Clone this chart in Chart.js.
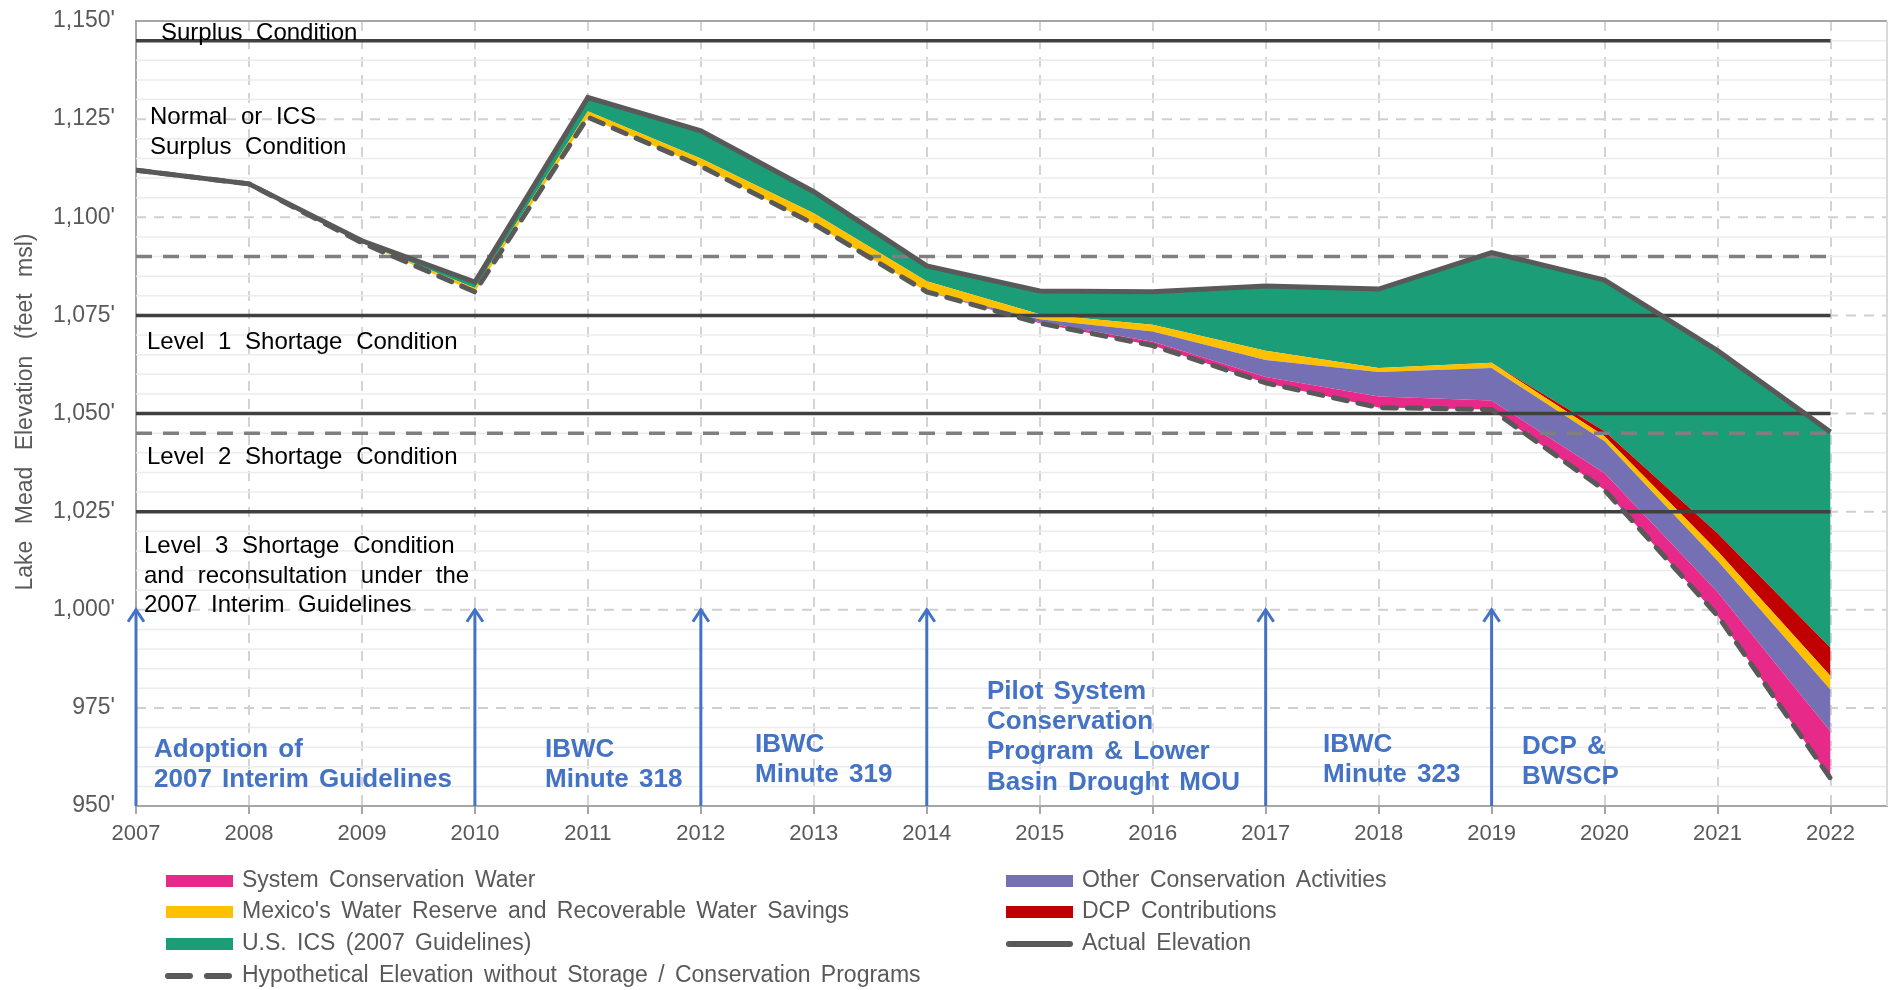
<!DOCTYPE html>
<html>
<head>
<meta charset="utf-8">
<title>Lake Mead Elevation</title>
<script src="https://cdn.jsdelivr.net/npm/chart.js@4.4.1/dist/chart.umd.min.js"></script>
<style>
  html, body { margin: 0; padding: 0; background: #fff; }
  #wrap { width: 1888px; height: 990px; }
</style>
</head>
<body>
<div id="wrap"><canvas id="chart" width="1888" height="990"></canvas></div>
<script>
// years on the x axis
const years = [2007, 2008, 2009, 2010, 2011, 2012, 2013, 2014, 2015, 2016, 2017, 2018, 2019, 2020, 2021, 2022]

// elevations (feet msl)
const actualElevation = [1112, 1108.5, 1094, 1083.5, 1130.5, 1122, 1106.5, 1087.6, 1081.2, 1081, 1082.5, 1081.7, 1091, 1084, 1066, 1045.3]
const hypotheticalElevation = [1112, 1108.5, 1093.5, 1081, 1125.5, 1113, 1098.3, 1081, 1073, 1067.3, 1057.8, 1051.5, 1051, 1030.5, 998.5, 957]

// feet of elevation added by each program (stacked from the hypothetical line up)
const systemConservation = [0, 0, 0, 0, 0, 0, 0, 0, 0.3, 1.0, 1.5, 2.8, 2.3, 4.3, 6, 12]
const otherConservation = [0, 0, 0, 0, 0, 0, 0, 0, 0.7, 2.6, 4.3, 6.3, 8.3, 8.1, 8, 10.6]
const mexicoReserve = [0, 0, 0, 1, 1.5, 2, 2.7, 2.7, 1.3, 1.7, 2.4, 1, 1.3, 1.3, 2.5, 3.5]
const dcpContributions = [0, 0, 0, 0, 0, 0, 0, 0, 0, 0, 0, 0, 0, 1.3, 4.5, 7.2]
// U.S. ICS fills what is left up to the actual elevation

// condition thresholds
const solidLevels = [1145, 1075, 1050, 1025]
const dashedLevels = [1090, 1045]

// policy milestones (arrows)
const milestoneYears = [2007, 2010, 2012, 2014, 2017, 2019]

const yTicks = [950, 975, 1000, 1025, 1050, 1075, 1100, 1125, 1150]

const FONT = '"Liberation Sans", Arial, sans-serif'
const GRAY = '#595959'
const BLUE = '#4472C4'

const colors = {
    pink: '#E7298A',
    purple: '#7570B3',
    yellow: '#FFC000',
    red: '#C00000',
    green: '#1B9E77',
    line: '#595959',
}

// text placed on the chart (left x, middle y in px)
const conditionLabels = [
    ['Surplus Condition', 161, 33],
    ['Normal or ICS', 150, 117],
    ['Surplus Condition', 150, 147],
    ['Level 1 Shortage Condition', 147, 342],
    ['Level 2 Shortage Condition', 147, 457],
    ['Level 3 Shortage Condition', 144, 546],
    ['and reconsultation under the', 144, 576],
    ['2007 Interim Guidelines', 144, 605],
]

const milestoneLabels = [
    ['Adoption of', 154, 750],
    ['2007 Interim Guidelines', 154, 780],
    ['IBWC', 545, 750],
    ['Minute 318', 545, 780],
    ['IBWC', 755, 745],
    ['Minute 319', 755, 775],
    ['Pilot System', 987, 692],
    ['Conservation', 987, 722],
    ['Program & Lower', 987, 752],
    ['Basin Drought MOU', 987, 783],
    ['IBWC', 1323, 745],
    ['Minute 323', 1323, 775],
    ['DCP &', 1522, 747],
    ['BWSCP', 1522, 777],
]

const legendItems = [
    {text: 'System Conservation Water', type: 'box', color: colors.pink, x: 166, y: 881},
    {text: "Mexico's Water Reserve and Recoverable Water Savings", type: 'box', color: colors.yellow, x: 166, y: 912},
    {text: 'U.S. ICS (2007 Guidelines)', type: 'box', color: colors.green, x: 166, y: 944},
    {text: 'Hypothetical Elevation without Storage / Conservation Programs', type: 'dash', color: colors.line, x: 166, y: 976},
    {text: 'Other Conservation Activities', type: 'box', color: colors.purple, x: 1006, y: 881},
    {text: 'DCP Contributions', type: 'box', color: colors.red, x: 1006, y: 912},
    {text: 'Actual Elevation', type: 'line', color: colors.line, x: 1006, y: 944},
]

// build the stacked boundaries
function points(values) {
    return years.map((yr, i) => ({x: yr, y: values[i]}))
}

let pinkTop = hypotheticalElevation.map((v, i) => v + systemConservation[i])
let purpleTop = pinkTop.map((v, i) => v + otherConservation[i])
let yellowTop = purpleTop.map((v, i) => v + mexicoReserve[i])
let redTop = yellowTop.map((v, i) => v + dcpContributions[i])

function areaSet(label, values, color) {
    return {
        label,
        data: points(values),
        fill: '-1',
        backgroundColor: color,
        borderWidth: 0,
        pointRadius: 0,
        order: 6,
    }
}

let datasets = [
    {
        label: 'Hypothetical Elevation without Storage / Conservation Programs',
        data: points(hypotheticalElevation),
        borderColor: colors.line,
        borderWidth: 5,
        borderDash: [14, 11],
        borderCapStyle: 'round',
        fill: false,
        pointRadius: 0,
        order: 2,
    },
    areaSet('System Conservation Water', pinkTop, colors.pink),
    areaSet('Other Conservation Activities', purpleTop, colors.purple),
    areaSet("Mexico's Water Reserve and Recoverable Water Savings", yellowTop, colors.yellow),
    areaSet('DCP Contributions', redTop, colors.red),
    areaSet('U.S. ICS (2007 Guidelines)', actualElevation, colors.green),
    {
        label: 'Actual Elevation',
        data: points(actualElevation),
        borderColor: colors.line,
        borderWidth: 5,
        fill: false,
        pointRadius: 0,
        order: 1,
    },
]

solidLevels.forEach((lvl) => {
    datasets.push({
        label: 'level ' + lvl,
        data: [{x: years[0], y: lvl}, {x: years[years.length - 1], y: lvl}],
        borderColor: '#404040',
        borderWidth: 3.5,
        fill: false,
        pointRadius: 0,
        order: 3,
    })
})
dashedLevels.forEach((lvl) => {
    datasets.push({
        label: 'level ' + lvl,
        data: [{x: years[0], y: lvl}, {x: years[years.length - 1], y: lvl}],
        borderColor: '#7f7f7f',
        borderWidth: 3.5,
        borderDash: [16, 11],
        fill: false,
        pointRadius: 0,
        order: 3,
    })
})

const gridPlugin = {
    id: 'gridPlugin',
    beforeDatasetsDraw(chart) {
        let {ctx, chartArea: a, scales: {y}} = chart
        ctx.save()
        for (let v = 955; v < 1150; v += 5) {
            let py = y.getPixelForValue(v)
            ctx.beginPath()
            if (v % 25 === 0) {
                ctx.strokeStyle = '#d0d0d0'
                ctx.lineWidth = 2
                ctx.setLineDash([10, 8])
            } else {
                ctx.strokeStyle = '#ececec'
                ctx.lineWidth = 1.5
                ctx.setLineDash([])
            }
            ctx.moveTo(a.left, py)
            ctx.lineTo(a.right, py)
            ctx.stroke()
        }
        ctx.setLineDash([])
        ctx.strokeStyle = '#a6a6a6'
        ctx.lineWidth = 2
        ctx.beginPath()
        ctx.moveTo(a.left, a.top)
        ctx.lineTo(a.right, a.top)
        ctx.stroke()
        ctx.strokeStyle = '#d9d9d9'
        ctx.beginPath()
        ctx.moveTo(a.right, a.top)
        ctx.lineTo(a.right, a.bottom)
        ctx.stroke()
        ctx.restore()
    },
}

const overlayPlugin = {
    id: 'overlayPlugin',
    afterDraw(chart) {
        let {ctx, scales: {x, y}} = chart
        ctx.save()

        // milestone arrows
        ctx.strokeStyle = BLUE
        ctx.lineWidth = 3
        milestoneYears.forEach((yr) => {
            let px = x.getPixelForValue(yr)
            let top = y.getPixelForValue(1000)
            let bottom = y.getPixelForValue(950)
            ctx.beginPath()
            ctx.moveTo(px, bottom)
            ctx.lineTo(px, top)
            ctx.stroke()
            ctx.beginPath()
            ctx.moveTo(px - 8, top + 12)
            ctx.lineTo(px, top)
            ctx.lineTo(px + 8, top + 12)
            ctx.stroke()
        })

        ctx.textBaseline = 'middle'
        ctx.textAlign = 'left'

        // condition labels
        ctx.fillStyle = '#000'
        ctx.font = '24px ' + FONT
        ctx.wordSpacing = '7px'
        conditionLabels.forEach(([t, lx, ly]) => ctx.fillText(t, lx, ly))

        // milestone labels
        ctx.fillStyle = BLUE
        ctx.font = 'bold 26px ' + FONT
        ctx.wordSpacing = '3px'
        milestoneLabels.forEach(([t, lx, ly]) => ctx.fillText(t, lx, ly))

        // y axis title
        ctx.save()
        ctx.translate(26, 412)
        ctx.rotate(-Math.PI / 2)
        ctx.textAlign = 'center'
        ctx.fillStyle = GRAY
        ctx.font = '23px ' + FONT
        ctx.wordSpacing = '10px'
        ctx.fillText('Lake Mead Elevation (feet msl)', 0, 0)
        ctx.restore()

        // legend
        ctx.font = '23px ' + FONT
        ctx.wordSpacing = '4px'
        legendItems.forEach((item) => {
            if (item.type === 'box') {
                ctx.fillStyle = item.color
                ctx.fillRect(item.x, item.y - 6, 67, 12)
            } else if (item.type === 'line') {
                ctx.strokeStyle = item.color
                ctx.lineWidth = 6
                ctx.lineCap = 'round'
                ctx.beginPath()
                ctx.moveTo(item.x + 3, item.y)
                ctx.lineTo(item.x + 64, item.y)
                ctx.stroke()
            } else {
                ctx.strokeStyle = item.color
                ctx.lineWidth = 6
                ctx.lineCap = 'round'
                ctx.beginPath()
                ctx.moveTo(item.x + 2, item.y)
                ctx.lineTo(item.x + 24, item.y)
                ctx.moveTo(item.x + 41, item.y)
                ctx.lineTo(item.x + 63, item.y)
                ctx.stroke()
            }
            ctx.fillStyle = GRAY
            ctx.fillText(item.text, item.x + 76, item.y)
        })
        ctx.restore()
    },
}

new Chart(
    document.getElementById('chart'),
    {
        type: 'line',
        data: {datasets},
        options: {
            responsive: false,
            animation: false,
            layout: {padding: {top: 21, right: 1, bottom: 144, left: 0}},
            plugins: {
                legend: {display: false},
                tooltip: {enabled: false},
            },
            scales: {
                x: {
                    type: 'linear',
                    min: 2007,
                    max: 2022.5,
                    ticks: {
                        stepSize: 1,
                        includeBounds: false,
                        autoSkip: false,
                        maxRotation: 0,
                        padding: 7,
                        color: GRAY,
                        font: {size: 22, family: FONT},
                        callback: (v) => String(v),
                    },
                    grid: {
                        color: '#d4d4d4',
                        lineWidth: 2,
                        tickLength: 8,
                        tickColor: '#a6a6a6',
                        tickWidth: 2,
                    },
                    border: {color: '#a6a6a6', width: 2, dash: [10, 8]},
                    afterFit: (s) => {
                        s.height = 40
                        s.paddingLeft = 0
                        s.paddingRight = 0
                    },
                },
                y: {
                    min: 950,
                    max: 1150,
                    afterBuildTicks: (s) => { s.ticks = yTicks.map((v) => ({value: v})) },
                    ticks: {
                        padding: 13,
                        color: GRAY,
                        font: {size: 23, family: FONT},
                        callback: (v) => v.toLocaleString('en-US') + "'",
                    },
                    grid: {display: false},
                    border: {color: '#a6a6a6', width: 2},
                    afterFit: (s) => {
                        s.width = 136
                        s.paddingTop = 0
                        s.paddingBottom = 0
                    },
                },
            },
        },
        plugins: [gridPlugin, overlayPlugin],
    },
)
</script>
</body>
</html>
